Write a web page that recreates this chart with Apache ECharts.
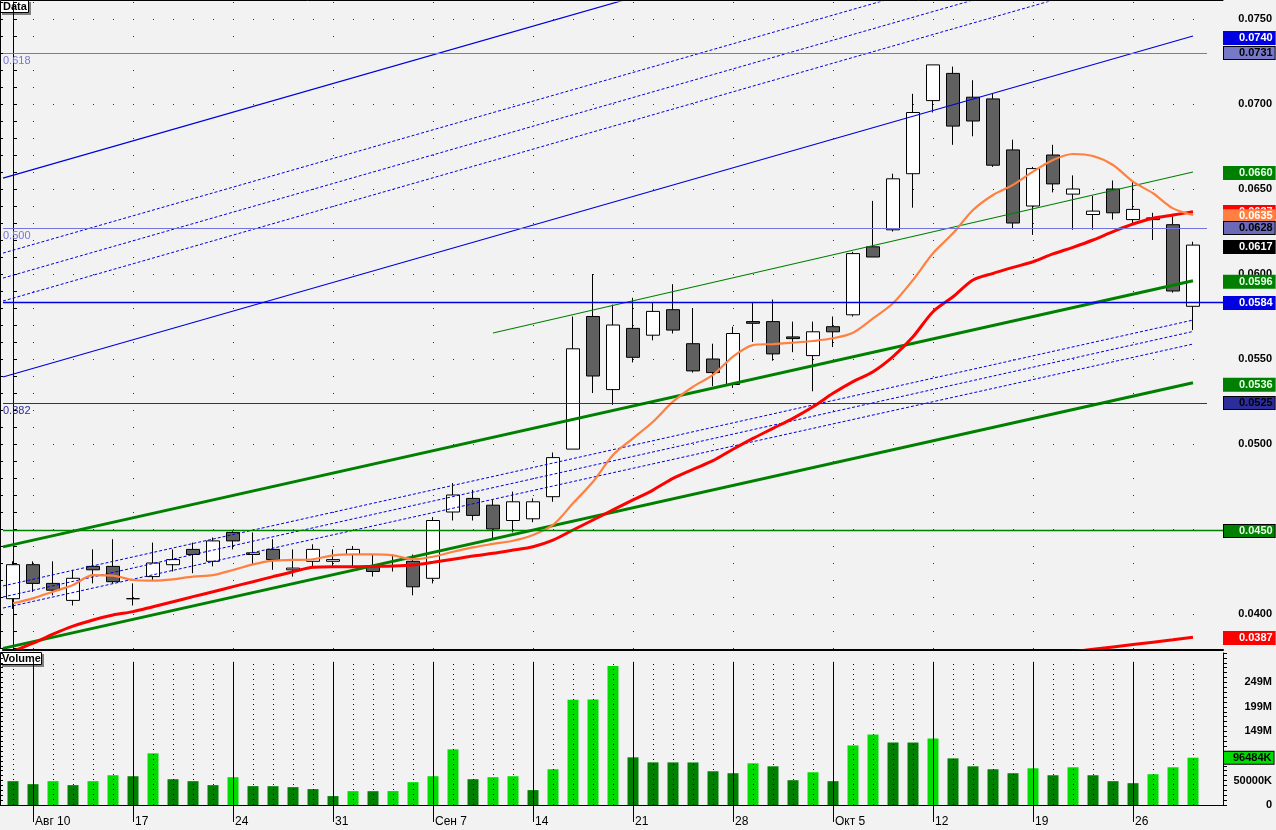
<!DOCTYPE html>
<html><head><meta charset="utf-8">
<script src="https://cdn.jsdelivr.net/npm/echarts@6/dist/echarts.min.js"></script>
<style>html,body{margin:0;padding:0;background:#f2f2f2;}#c{width:1276px;height:830px;}</style>
</head><body><div id="c"></div>
<script>
// ---------------- DATA ----------------
const dates = ['2009-08-07','2009-08-10','2009-08-11','2009-08-12','2009-08-13','2009-08-14','2009-08-17','2009-08-18','2009-08-19','2009-08-20','2009-08-21','2009-08-24','2009-08-25','2009-08-26','2009-08-27','2009-08-28','2009-08-31','2009-09-01','2009-09-02','2009-09-03','2009-09-04','2009-09-07','2009-09-08','2009-09-09','2009-09-10','2009-09-11','2009-09-14','2009-09-15','2009-09-16','2009-09-17','2009-09-18','2009-09-21','2009-09-22','2009-09-23','2009-09-24','2009-09-25','2009-09-28','2009-09-29','2009-09-30','2009-10-01','2009-10-02','2009-10-05','2009-10-06','2009-10-07','2009-10-08','2009-10-09','2009-10-12','2009-10-13','2009-10-14','2009-10-15','2009-10-16','2009-10-19','2009-10-20','2009-10-21','2009-10-22','2009-10-23','2009-10-26','2009-10-27','2009-10-28','2009-10-29'];
const open = [0.0409,0.0429,0.0418,0.0408,0.0428,0.0428,0.0409,0.0422,0.0429,0.0438,0.0431,0.0448,0.0435,0.0438,0.0426,0.0431,0.0431,0.0435,0.0428,0.0428,0.0431,0.0421,0.0460,0.0468,0.0464,0.0455,0.0456,0.0469,0.0497,0.0575,0.0532,0.0568,0.0564,0.0579,0.0559,0.0550,0.0535,0.0572,0.0572,0.0563,0.0552,0.0569,0.0576,0.0616,0.0626,0.0659,0.0702,0.0718,0.0704,0.0703,0.0673,0.0640,0.0670,0.0647,0.0635,0.0650,0.0632,0.0632,0.0629,0.0581];
const close = [0.0429,0.0418,0.0414,0.0421,0.0426,0.0419,0.0409,0.0430,0.0432,0.0435,0.0443,0.0443,0.0436,0.0432,0.0427,0.0438,0.0432,0.0438,0.0425,0.0428,0.0416,0.0455,0.0470,0.0458,0.0450,0.0466,0.0466,0.0492,0.0556,0.0540,0.0570,0.0551,0.0578,0.0567,0.0543,0.0542,0.0565,0.0571,0.0553,0.0562,0.0566,0.0566,0.0612,0.0610,0.0656,0.0695,0.0723,0.0687,0.0690,0.0664,0.0630,0.0662,0.0653,0.0650,0.0637,0.0636,0.0638,0.0633,0.0590,0.0617];
const low = [0.0403,0.0413,0.0411,0.0405,0.0418,0.0418,0.0405,0.0420,0.0425,0.0424,0.0428,0.0438,0.0429,0.0426,0.0422,0.0428,0.0428,0.0427,0.0422,0.0425,0.0411,0.0418,0.0455,0.0455,0.0444,0.0448,0.0454,0.0466,0.0497,0.0530,0.0523,0.0548,0.0561,0.0565,0.0542,0.0534,0.0533,0.0560,0.0549,0.0554,0.0531,0.0557,0.0575,0.0610,0.0625,0.0639,0.0695,0.0676,0.0681,0.0663,0.0627,0.0623,0.0648,0.0626,0.0626,0.0632,0.0629,0.0620,0.0589,0.0567];
const high = [0.0431,0.0431,0.0431,0.0426,0.0438,0.0444,0.0418,0.0442,0.0438,0.0442,0.0445,0.0449,0.0448,0.0444,0.0438,0.0441,0.0438,0.0440,0.0435,0.0435,0.0435,0.0457,0.0477,0.0473,0.0467,0.0472,0.0468,0.0495,0.0575,0.0600,0.0582,0.0586,0.0583,0.0594,0.0580,0.0559,0.0569,0.0583,0.0585,0.0572,0.0572,0.0575,0.0613,0.0643,0.0659,0.0706,0.0723,0.0722,0.0714,0.0706,0.0679,0.0663,0.0676,0.0658,0.0646,0.0655,0.0654,0.0636,0.0634,0.0619];
const volumeM = [48.6,42.5,48.6,40.5,48.6,60.7,58.7,105.3,52.6,48.6,40.5,56.7,38.5,38.4,36.4,32.4,18.2,28.3,28.2,28.4,46.6,58.7,113.4,52.6,56.7,58.7,30.4,72.9,214.6,215.0,283.4,97.2,87.0,86.9,86.8,68.8,64.8,85.0,78.9,50.6,66.8,48.6,121.5,143.7,127.5,127.4,135.6,95.1,78.9,72.9,64.8,74.9,60.7,76.9,60.7,48.6,44.5,62.8,76.9,96.484];
const maShort = [0.04063,0.04092,0.04131,0.04171,0.04229,0.04226,0.04200,0.04196,0.04204,0.04220,0.04229,0.04259,0.04292,0.04314,0.04318,0.04322,0.04345,0.04351,0.04351,0.04345,0.04322,0.04337,0.04366,0.04392,0.04412,0.04431,0.04465,0.04524,0.04651,0.04778,0.04935,0.05033,0.05131,0.05249,0.05337,0.05406,0.05514,0.05582,0.05588,0.05596,0.05606,0.05622,0.05655,0.05739,0.05828,0.05965,0.06122,0.06239,0.06376,0.06465,0.06524,0.06602,0.06671,0.06706,0.06694,0.06641,0.06543,0.06475,0.06386,0.06347];
const maLong = [0.03780,0.03828,0.03882,0.03929,0.03965,0.03994,0.04014,0.04043,0.04072,0.04102,0.04131,0.04161,0.04190,0.04220,0.04249,0.04275,0.04278,0.04278,0.04280,0.04282,0.04288,0.04304,0.04322,0.04341,0.04357,0.04376,0.04396,0.04435,0.04494,0.04553,0.04612,0.04671,0.04729,0.04798,0.04851,0.04902,0.04969,0.05033,0.05092,0.05151,0.05219,0.05298,0.05367,0.05425,0.05514,0.05631,0.05778,0.05866,0.05965,0.06004,0.06039,0.06072,0.06118,0.06157,0.06200,0.06249,0.06294,0.06328,0.06347,0.06366];
const maVeryLongTail = [['2009-10-21',0.03778],['2009-10-22',0.03792],['2009-10-23',0.03806],['2009-10-26',0.03820],['2009-10-27',0.03834],['2009-10-28',0.03848],['2009-10-29',0.03863]];

// trend lines: [[index, price], [index, price]]
const blueSolidLines = [
  [[-0.5,0.06564],[59,0.08571]],
  [[-0.5,0.05394],[59,0.07400]]
];
const blueFibUpper = [
  [[-0.5,0.06123],[59,0.08130]],
  [[-0.5,0.05976],[59,0.07982]],
  [[-0.5,0.05841],[59,0.07847]]
];
const greenThickLines = [
  [[-0.5,0.03798],[59,0.05360]],
  [[-0.5,0.04395],[59,0.05960]]
];
const greenThinLine = [[24,0.05653],[59,0.06600]];
const blueFibLower = [
  [[-0.5,0.04165],[59,0.05729]],
  [[-0.5,0.04100],[59,0.05662]],
  [[-0.5,0.04035],[59,0.05588]]
];
const fibLevelValues = [0.07298,0.06269,0.05241];
const fibLevelNames = ['0.618','0.500','0.382'];
const blueLevel = 0.05834;
const greenLevel = 0.04490;

const priceTickValues = [0.040,0.045,0.050,0.055,0.060,0.065,0.070,0.075];
const priceTickLabels = ['0.0400','0.0450','0.0500','0.0550','0.0600','0.0650','0.0700','0.0750'];
const priceMinorTicks = [0.038,0.039,0.040,0.041,0.042,0.043,0.044,0.045,0.046,0.047,0.048,0.049,0.050,0.051,0.052,0.053,0.054,0.055,0.056,0.057,0.058,0.059,0.060,0.061,0.062,0.063,0.064,0.065,0.066,0.067,0.068,0.069,0.070,0.071,0.072,0.073,0.074,0.075,0.076];
const volTickValues = [0,50e6,100e6,150e6,200e6,250e6];
const volTickLabels = ['0','50000K','','149M','199M','249M'];
const xTickDates = ['2009-08-10','2009-08-17','2009-08-24','2009-08-31','2009-09-07','2009-09-14','2009-09-21','2009-09-28','2009-10-05','2009-10-12','2009-10-19','2009-10-26'];
const xTickLabels = ['Авг 10','17','24','31','Сен 7','14','21','28','Окт 5','12','19','26'];

const priceBoxValues = [0.07388,0.07300,0.06594,0.06365,0.06340,0.06271,0.06159,0.05954,0.05829,0.05349,0.05241,0.04488,0.03859];
const priceBoxTexts = ['0.0740','0.0731','0.0660','0.0637','0.0635','0.0628','0.0617','0.0596','0.0584','0.0536','0.0525','0.0450','0.0387'];
const volBoxValue = 96.484e6;
const volBoxText = '96484K';

// ---------------- STYLES ----------------
const priceBoxStyles = [
  {bg:'#0000e0', fg:'#ffffff'},
  {bg:'#7878c8', fg:'#000000', bd:'#000'},
  {bg:'#008000', fg:'#e8ffe8'},
  {bg:'#ff0000', fg:'#ffffff'},
  {bg:'#ff8040', fg:'#ffffff'},
  {bg:'#6a6ab8', fg:'#000000', bd:'#000'},
  {bg:'#000000', fg:'#ffffff'},
  {bg:'#008000', fg:'#e8ffe8'},
  {bg:'#0000e0', fg:'#ffffff'},
  {bg:'#008000', fg:'#e8ffe8'},
  {bg:'#2c2c9c', fg:'#000000', bd:'#000'},
  {bg:'#008000', fg:'#e8ffe8', bd:'#000'},
  {bg:'#ff0000', fg:'#ffffff'}
];
const FONT = 'Liberation Sans';
const cats = dates.concat(['']);
const mondayIdx = xTickDates.map(d => dates.indexOf(d));
const volume = volumeM.map(v => v * 1e6);
const X0 = -0.5, X1 = 60.5, PMIN = 0.038, PMAX = 0.076;

// dotted grid points (at axis tick levels)
const gridDots = [];
priceTickValues.forEach(v => dates.forEach((d, i) => gridDots.push([i, v])));
priceMinorTicks.forEach(v => { if (!priceTickValues.some(t => Math.abs(t - v) < 1e-7)) mondayIdx.forEach(i => gridDots.push([i, v])); });

function lineSeries(pts, color, width, type, z) {
  return {type:'line', xAxisIndex:1, yAxisIndex:0, data:pts, symbol:'none', silent:true,
    lineStyle:{color:color, width:width, type:type||'solid'}, z:z||3, animation:false};
}
const boxLabel = {show:true, position:'end', distance:1, fontFamily:FONT, fontWeight:'bold', fontSize:11, lineHeight:11, padding:[1,2,0,15]};
const invisibleLine = {color:'rgba(0,0,0,0)', width:1, type:'solid'};

const series = [];
// main pane dot grid
series.push({type:'scatter', xAxisIndex:1, yAxisIndex:0, data:gridDots, symbol:'rect', symbolSize:1, symbolOffset:[0.5,0.5],
  itemStyle:{color:'#000'}, silent:true, z:1, animation:false});
// candles
series.push({type:'candlestick', name:'Data', xAxisIndex:0, yAxisIndex:0, barWidth:13,
  data: dates.map((d,i) => [open[i], close[i], low[i], high[i]]),
  itemStyle:{color:'#ffffff', color0:'#606060', borderColor:'#000', borderColor0:'#000', borderColorDoji:'#000', borderWidth:1},
  z:2, animation:false});
// horizontal levels
series.push({type:'line', xAxisIndex:1, yAxisIndex:0, data:[], silent:true,
  markLine:{silent:true, symbol:'none', animation:false,
    data: fibLevelValues.map((v,k) => [
      {coord:[X0, v], lineStyle:{color: k===2 ? '#2a2aa0' : '#7474dc', width:1, type:'solid'},
        label:{show:true, position:'insideStartBottom', distance:[0,2], formatter:fibLevelNames[k], color: k===2 ? '#2a2aa0':'#7474dc', fontFamily:FONT, fontSize:11}},
      {coord:[59.7, v]}
    ]).concat([
      [{coord:[X0, blueLevel], lineStyle:{color:'#0000e0', width:1.3, type:'solid'}, label:{show:false}}, {coord:[X1, blueLevel]}],
      [{coord:[X0, greenLevel], lineStyle:{color:'#008000', width:1.3, type:'solid'}, label:{show:false}}, {coord:[X1, greenLevel]}]
    ])
  }});
// trend lines
blueSolidLines.forEach(p => series.push(lineSeries(p, '#0000d8', 1.2)));
blueFibUpper.forEach(p => series.push(lineSeries(p, '#0000e0', 1, [3,2])));
blueFibLower.forEach(p => series.push(lineSeries(p, '#0000e0', 1, [3,2])));
greenThickLines.forEach(p => series.push(lineSeries(p, '#008000', 3)));
series.push(lineSeries(greenThinLine, '#008000', 1.2));
// moving averages
series.push({type:'line', xAxisIndex:0, yAxisIndex:0, data:maLong, symbol:'none', smooth:0.3, silent:true,
  lineStyle:{color:'#ff0000', width:3}, z:4, animation:false});
series.push({type:'line', xAxisIndex:0, yAxisIndex:0, data:maShort, symbol:'none', smooth:0.3, silent:true,
  lineStyle:{color:'#ff8040', width:2.2}, z:4, animation:false});
series.push({type:'line', xAxisIndex:0, yAxisIndex:0, data:maVeryLongTail, symbol:'none', silent:true,
  lineStyle:{color:'#ff0000', width:3}, z:4, animation:false});
// price boxes on right axis
series.push({type:'line', xAxisIndex:1, yAxisIndex:0, data:[], silent:true, z:10,
  markLine:{silent:true, symbol:'none', animation:false, label:boxLabel,
    data: priceBoxValues.map((v,k) => [
      {coord:[X0, v], lineStyle:invisibleLine,
        label:{show:true, position:'end', formatter:priceBoxTexts[k], backgroundColor:priceBoxStyles[k].bg, color:priceBoxStyles[k].fg,
        borderColor:priceBoxStyles[k].bd || priceBoxStyles[k].bg, borderWidth:1}},
      {coord:[X1, v]}
    ])
  }});
// volume vertical grid lines
series.push({type:'line', xAxisIndex:3, yAxisIndex:2, data:[], silent:true,
  markLine:{silent:true, symbol:'none', animation:false, label:{show:false},
    data: dates.map((d,i) => [
      {coord:[d, 0], lineStyle:{color:'#000', width:1, type: mondayIdx.includes(i) ? 'solid' : [1,4]}},
      {coord:[d, 292e6]}
    ])
  }});
// volume bars
series.push({type:'bar', name:'Volume', xAxisIndex:3, yAxisIndex:2, barWidth:11, z:3, animation:false,
  data: volume.map((v,i) => ({value:v, itemStyle:{color: (i>0 && v>volume[i-1]) ? '#00dc00' : '#008000'}}))});
// volume box
series.push({type:'line', xAxisIndex:3, yAxisIndex:2, data:[], silent:true, z:10,
  markLine:{silent:true, symbol:'none', animation:false,
    label:Object.assign({}, boxLabel, {padding:[1,2,0,9], distance:11}),
    data:[[{coord:[dates[0], volBoxValue], lineStyle:invisibleLine,
            label:{show:true, position:'end', distance:11, formatter:volBoxText, backgroundColor:'#00dc00', color:'#000', borderColor:'#000', borderWidth:1}},
           {coord:[cats[cats.length-1], volBoxValue]}]]
  }});

const priceFmt = v => { const k = priceTickValues.findIndex(t => Math.abs(t - v) < 1e-7); return k >= 0 ? priceTickLabels[k] : ''; };
const volFmt = v => { const k = volTickValues.findIndex(t => Math.abs(t - v) < 1); return k >= 0 ? volTickLabels[k] : ''; };
const isTick = idx => mondayIdx.includes(idx);

const option = {
  backgroundColor:'#f2f2f2',
  animation:false,
  textStyle:{fontFamily:FONT},
  grid:[
    {left:3, width:1220, top:2, height:646, containLabel:false},
    {left:3, width:1220, top:653, height:152, containLabel:false}
  ],
  xAxis:[
    {type:'category', gridIndex:0, data:cats, boundaryGap:true, position:'bottom', offset:2,
      axisLine:{lineStyle:{color:'#000', width:2}}, axisTick:{show:false}, axisLabel:{show:false}, splitLine:{show:false}},
    {type:'value', gridIndex:0, min:X0, max:X1, show:false},
    {type:'category', gridIndex:0, data:cats, position:'top', offset:2,
      axisLine:{lineStyle:{color:'#000', width:1}}, axisTick:{show:false}, axisLabel:{show:false}},
    {type:'category', gridIndex:1, data:cats, boundaryGap:true, position:'bottom', offset:8,
      axisLine:{lineStyle:{color:'#000', width:1}},
      axisTick:{show:true, interval:isTick, alignWithLabel:true, length:17, lineStyle:{color:'#000'}},
      axisLabel:{show:true, interval:isTick, align:'left', margin:3, padding:[0,0,0,2], color:'#000', fontSize:12, fontFamily:FONT,
        formatter:(val, idx) => { const k = mondayIdx.indexOf(idx); return k >= 0 ? xTickLabels[k] : ''; }},
      splitLine:{show:false}}
  ],
  yAxis:[
    {type:'value', gridIndex:0, position:'right', min:PMIN, max:PMAX, interval:0.001, scale:true,
      axisLine:{show:true, lineStyle:{color:'#000', width:1}},
      axisTick:{show:true, length:4, lineStyle:{color:'#000'}},
      axisLabel:{show:true, formatter:priceFmt, align:'right', margin:49, color:'#000', fontWeight:'bold', fontSize:11, fontFamily:FONT},
      splitLine:{show:false}},
    {type:'value', gridIndex:0, position:'left', offset:3, min:PMIN, max:PMAX, interval:0.001, scale:true,
      axisLine:{show:true, lineStyle:{color:'#000', width:1}},
      axisTick:{show:true, inside:true, length:3, lineStyle:{color:'#000'}},
      axisLabel:{show:false}, splitLine:{show:false}},
    {type:'value', gridIndex:1, position:'right', min:0, max:310e6, interval:10e6,
      axisLine:{show:true, lineStyle:{color:'#000', width:1}},
      axisTick:{show:true, length:4, lineStyle:{color:'#000'}},
      axisLabel:{show:true, formatter:volFmt, align:'right', margin:49, color:'#000', fontWeight:'bold', fontSize:11, fontFamily:FONT},
      splitLine:{show:false}},
    {type:'value', gridIndex:1, position:'left', offset:3, min:0, max:310e6, interval:10e6,
      axisLine:{show:true, lineStyle:{color:'#000', width:1}},
      axisTick:{show:true, inside:true, length:3, lineStyle:{color:'#000'}},
      axisLabel:{show:false}, splitLine:{show:false}}
  ],
  graphic:[
    {type:'group', left:0, top:0, z:100, children:[
      {type:'rect', shape:{x:2, y:2, width:29, height:13}, style:{fill:'#808080'}},
      {type:'rect', shape:{x:0.5, y:0.5, width:28, height:12}, style:{fill:'#ffffff', stroke:'#000', lineWidth:1}},
      {type:'text', x:3, y:1, style:{text:'Data', font:'bold 11px "Liberation Sans"', fill:'#000'}}
    ]},
    {type:'group', left:0, top:652, z:100, children:[
      {type:'rect', shape:{x:2, y:2, width:42, height:13}, style:{fill:'#808080'}},
      {type:'rect', shape:{x:0.5, y:0.5, width:41, height:12}, style:{fill:'#ffffff', stroke:'#000', lineWidth:1}},
      {type:'text', x:2, y:1, style:{text:'Volume', font:'bold 11px "Liberation Sans"', fill:'#000'}}
    ]}
  ],
  series: series
};
const chart = echarts.init(document.getElementById('c'), null, {renderer:'canvas'});
chart.setOption(option);
</script></body></html>
